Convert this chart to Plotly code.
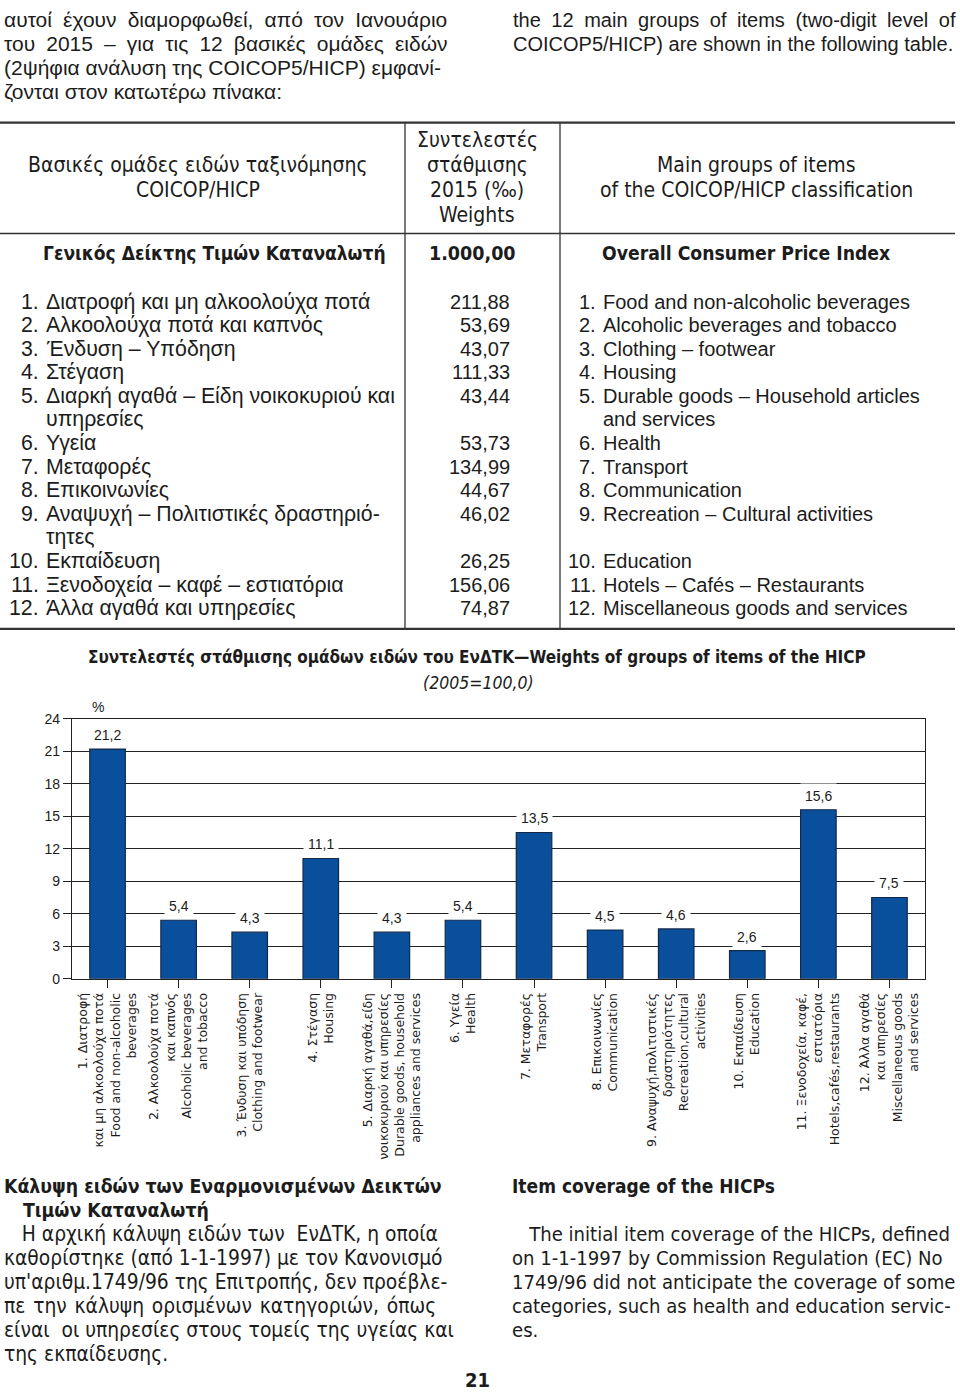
import plotly.graph_objects as go

W, H = 960, 1396

# ---------------- data ----------------
table_el = [
    ["1.", "Διατροφή και μη αλκοολούχα ποτά"],
    ["2.", "Αλκοολούχα ποτά και καπνός"],
    ["3.", "Ένδυση – Υπόδηση"],
    ["4.", "Στέγαση"],
    ["5.", "Διαρκή αγαθά – Είδη νοικοκυριού και", "υπηρεσίες"],
    ["6.", "Υγεία"],
    ["7.", "Μεταφορές"],
    ["8.", "Επικοινωνίες"],
    ["9.", "Αναψυχή – Πολιτιστικές δραστηριό-", "τητες"],
    ["10.", "Εκπαίδευση"],
    ["11.", "Ξενοδοχεία – καφέ – εστιατόρια"],
    ["12.", "Άλλα αγαθά και υπηρεσίες"],
]
table_en = [
    ["1.", "Food and non-alcoholic beverages"],
    ["2.", "Alcoholic beverages and tobacco"],
    ["3.", "Clothing – footwear"],
    ["4.", "Housing"],
    ["5.", "Durable goods – Household articles", "and services"],
    ["6.", "Health"],
    ["7.", "Transport"],
    ["8.", "Communication"],
    ["9.", "Recreation – Cultural activities", ""],
    ["10.", "Education"],
    ["11.", "Hotels – Cafés – Restaurants"],
    ["12.", "Miscellaneous goods and services"],
]
weights_2015 = [211.88, 53.69, 43.07, 111.33, 43.44, 53.73, 134.99, 44.67, 46.02, 26.25, 156.06, 74.87]
overall_weight = "1.000,00"

chart_labels = [
    "1. Διατροφή<br>και μη αλκοολούχα ποτά<br>Food and non-alcoholic<br>beverages",
    "2. Αλκοολούχα ποτά<br>και καπνός<br>Alcoholic beverages<br>and tobacco",
    "3. Ένδυση και υπόδηση<br>Clothing and footwear",
    "4. Στέγαση<br>Housing",
    "5. Διαρκή αγαθά,είδη<br>νοικοκυριού και υπηρεσίες<br>Durable goods, household<br>appliances and services",
    "6. Υγεία<br>Health",
    "7. Μεταφορές<br>Transport",
    "8. Επικοινωνίες<br>Communication",
    "9. Αναψυχή,πολιτιστικές<br>δραστηριότητες<br>Recreation,cultural<br>activities",
    "10. Εκπαίδευση<br>Education",
    "11. Ξενοδοχεία, καφέ,<br>εστιατόρια<br>Hotels,cafés,restaurants",
    "12. Άλλα αγαθά<br>και υπηρεσίες<br>Miscellaneous goods<br>and services",
]
chart_values = [21.2, 5.4, 4.3, 11.1, 4.3, 5.4, 13.5, 4.5, 4.6, 2.6, 15.6, 7.5]
y_ticks = [0, 3, 6, 9, 12, 15, 18, 21, 24]

# ---------------- styling ----------------
SANS = "Liberation Sans, Arial, Helvetica, sans-serif"
NARROW = "DejaVu Sans Condensed, Liberation Sans Narrow, Arial Narrow, sans-serif"
GEO = "DejaVu Sans, Verdana, sans-serif"
INK = "#1c1c1c"
BAR = "#0a4f9b"
BAR_EDGE = "#13294a"

def px(x):
    return x / W

def py(y):
    return 1 - y / H

ann = []
shapes = []

def T(x, y, text, size=20, anchor="left", family=SANS, bold=False, italic=False, color=INK):
    if bold:
        text = "<b>" + text + "</b>"
    if italic:
        text = "<i>" + text + "</i>"
    ann.append(dict(xref="paper", yref="paper", x=px(x), y=py(y), text=text,
                    xanchor=anchor, yanchor="middle", showarrow=False,
                    font=dict(family=family, size=size, color=color)))

def L(x0, y0, x1, y1, w=1.2, color="#333"):
    shapes.append(dict(type="line", xref="paper", yref="paper",
                       x0=px(x0), y0=py(y0), x1=px(x1), y1=py(y1),
                       line=dict(color=color, width=w)))

def spread(line, hair):
    # widen inter-word gaps with hair spaces (typeset justification)
    return (" " + "\u200a" * hair).join(line.split(" ")) if hair else line

# ---------- top paragraph ----------
top_el = [("αυτοί έχουν διαμορφωθεί, από τον Ιανουάριο", 3),
          ("του 2015 – για τις 12 βασικές ομάδες ειδών", 3),
          ("(2ψήφια ανάλυση της COICOP5/HICP) εμφανί-", 0),
          ("ζονται στον κατωτέρω πίνακα:", 0)]
for i, (s, h) in enumerate(top_el):
    T(2, 12 + i * 24, spread(s, h), size=21)
top_en = [("the 12 main groups of items (two-digit level of", 3),
          ("COICOP5/HICP) are shown in the following table.", 0)]
for i, (s, h) in enumerate(top_en):
    T(511, 12 + i * 24, spread(s, h), size=20)

# ---------- table ----------
L(0, 116, 955, 116, w=2.2)
L(0, 228, 955, 228, w=1.5)
L(0, 628, 955, 628, w=2.2)
L(405, 116, 405, 628, w=1.3)
L(560, 116, 560, 628, w=1.3)

T(198, 159, "Βασικές ομάδες ειδών ταξινόμησης", size=21, anchor="center", family=NARROW)
T(198, 184, "COICOP/HICP", size=21, anchor="center", family=NARROW)
for i, s in enumerate(["Συντελεστές", "στάθμισης", "2015 (‰)", "Weights"]):
    T(477, 134 + i * 25.3, s, size=21, anchor="center", family=NARROW)
T(756, 159, "Main groups of items", size=21, anchor="center", family=NARROW)
T(756, 184, "of the COICOP/HICP classification", size=21, anchor="center", family=NARROW)

T(388, 248, "Γενικός Δείκτης Τιμών Καταναλωτή", size=19, anchor="right", family=NARROW, bold=True)
T(472, 248, overall_weight, size=19.5, anchor="center", family=NARROW, bold=True)
T(600, 248, "Overall Consumer Price Index", size=19.2, anchor="left", family=NARROW, bold=True)

row = 0
ROW0, DY = 297, 23.85
GR = 21.3
for k in range(12):
    y = ROW0 + row * DY
    el = table_el[k]
    en = table_en[k]
    T(41, y, el[0], size=GR, anchor="right")
    T(44, y, el[1], size=GR)
    T(512, y, f"{weights_2015[k]:.2f}".replace(".", ","), anchor="right")
    T(598, y, en[0], anchor="right")
    T(601, y, en[1])
    if len(el) > 2:
        T(44, y + DY, el[2], size=GR)
        if en[2]:
            T(601, y + DY, en[2])
        row += 2
    else:
        row += 1

# ---------- chart titles ----------
T(477, 657, "Συντελεστές στάθμισης ομάδων ειδών του ΕνΔΤΚ—Weights of groups of items of the HICP",
  size=17, anchor="center", family=NARROW, bold=True)
T(478, 683, "(2005=100,0)", size=17.5, anchor="center", family=NARROW, italic=True)
T(98, 707, "%", size=14, anchor="center", family=SANS)

# ---------- bottom text ----------
T(2, 1192, "Κάλυψη ειδών των Εναρμονισμένων Δεικτών", size=19.3, family=NARROW, bold=True)
T(21, 1216, "Τιμών Καταναλωτή", size=19.3, family=NARROW, bold=True)
bottom_el = [("   Η αρχική κάλυψη ειδών των  ΕνΔΤΚ, η οποία", 0),
             ("καθορίστηκε (από 1-1-1997) με τον Κανονισμό", 0),
             ("υπ'αριθμ.1749/96 της Επιτροπής, δεν προέβλε-", 0),
             ("πε την κάλυψη ορισμένων κατηγοριών, όπως", 1),
             ("είναι  οι υπηρεσίες στους τομείς της υγείας και", 0),
             ("της εκπαίδευσης.", 0)]
for i, (s, h) in enumerate(bottom_el):
    T(2, 1240 + i * 24.4, spread(s, h), size=20.8, family=NARROW)
T(510, 1192, "Item coverage of the HICPs", size=19, family=NARROW, bold=True)
bottom_en = [("   The initial item coverage of the HICPs, defined", 0),
             ("on 1-1-1997 by Commission Regulation (EC) No", 0),
             ("1749/96 did not anticipate the coverage of some", 0),
             ("categories, such as health and education servic-", 0),
             ("es.", 0)]
for i, (s, h) in enumerate(bottom_en):
    T(510, 1240 + i * 24.4, spread(s, h), size=20.1, family=NARROW)
T(477, 1388, "21", size=20, anchor="center", family=NARROW, bold=True)

# ---------- bar value labels ----------
for i, v in enumerate(chart_values):
    ann.append(dict(xref="x", yref="y", x=i, y=v, text=f"{v:.1f}".replace(".", ","),
                    showarrow=False, xanchor="center", yanchor="bottom", yshift=1,
                    bgcolor="white", borderpad=4,
                    font=dict(family=SANS, size=14, color=INK)))

# ---------------- figure ----------------
fig = go.Figure()
fig.add_trace(go.Bar(
    x=list(range(12)), y=chart_values, width=0.5,
    marker=dict(color=BAR, line=dict(color=BAR_EDGE, width=1.2)),
    hoverinfo="skip"))

fig.update_layout(
    width=W, height=H,
    margin=dict(l=0, r=0, t=0, b=0),
    paper_bgcolor="white", plot_bgcolor="white",
    showlegend=False,
    annotations=ann, shapes=shapes,
    xaxis=dict(domain=[px(72), px(925)], range=[-0.5, 11.5],
               tickmode="array", tickvals=list(range(12)), ticktext=chart_labels,
               tickangle=-90, tickfont=dict(family=GEO, size=12.5, color=INK),
               ticks="outside", ticklen=8, tickwidth=1.2, tickcolor="#222",
               showline=True, linecolor="#222", linewidth=1.4, mirror=True,
               showgrid=False, zeroline=False, fixedrange=True),
    yaxis=dict(domain=[py(982), py(719)], range=[0, 24],
               tickmode="array", tickvals=y_ticks,
               tickfont=dict(family=SANS, size=14, color=INK),
               ticks="outside", ticklen=8, tickwidth=1.2, tickcolor="#222",
               showline=True, linecolor="#222", linewidth=1.4, mirror=True,
               showgrid=True, gridcolor="#222", gridwidth=1.3,
               zeroline=False, fixedrange=True),
)

fig.write_html("out.html", config={"displayModeBar": False},
               post_script="document.body.style.margin='0px';")
